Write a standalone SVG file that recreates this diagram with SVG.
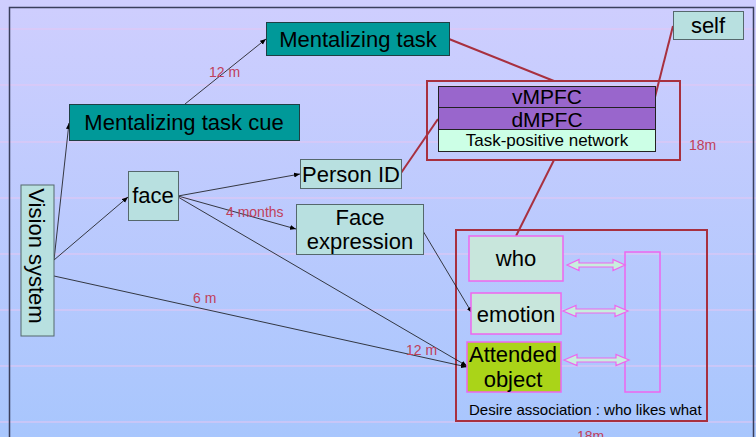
<svg xmlns="http://www.w3.org/2000/svg" width="756" height="437" viewBox="0 0 756 437">
  <defs>
    <linearGradient id="bg" x1="0" y1="0" x2="0" y2="1">
      <stop offset="0" stop-color="#cfcefe"/>
      <stop offset="1" stop-color="#a8c6fd"/>
    </linearGradient>
    <marker id="tip" viewBox="0 0 6 6" refX="6" refY="3" markerWidth="6" markerHeight="6" markerUnits="userSpaceOnUse" orient="auto">
      <path d="M0,0.6 L6,3 L0,5.4 Z" fill="#000"/>
    </marker>
    <style>
      text { font-family: "Liberation Sans", Arial, sans-serif; fill: #000; }
      .rule { stroke: #e6c6f2; stroke-width: 1; }
      .teal { fill: #009999; stroke: #1f3f44; stroke-width: 1; }
      .cyan { fill: #b8e0e0; stroke: #55686c; stroke-width: 1; }
      .purple { fill: #9966cc; stroke: #222; stroke-width: 1; }
      .mint { fill: #ccffe6; stroke: #222; stroke-width: 1; }
      .frame { fill: none; stroke: #a8303f; stroke-width: 2; }
      .slot { fill: #c8e6dc; stroke: #ee66ee; stroke-width: 1.5; }
      .dbl { fill: #c8eedd; stroke: #ee66ee; stroke-width: 1.2; }
      .big { font-size: 22px; }
      .area { font-size: 21px; }
      .lbl { font-size: 14px; fill: #c0405a; }
      .flow { fill: none; stroke: #111; stroke-width: 0.8; marker-end: url(#tip); }
      .link { fill: none; stroke: #a8303f; stroke-width: 2; }
    </style>
  </defs>

  <!-- background with ruled lines -->
  <rect x="0" y="0" width="756" height="437" fill="url(#bg)"/>
  <g id="rules">
    <line class="rule" x1="0" y1="29" x2="756" y2="29"/>
    <line class="rule" x1="0" y1="85" x2="756" y2="85"/>
    <line class="rule" x1="0" y1="142" x2="756" y2="142"/>
    <line class="rule" x1="0" y1="198" x2="756" y2="198"/>
    <line class="rule" x1="0" y1="254" x2="756" y2="254"/>
    <line class="rule" x1="0" y1="310" x2="756" y2="310"/>
    <line class="rule" x1="0" y1="366" x2="756" y2="366"/>
    <line class="rule" x1="0" y1="422" x2="756" y2="422"/>
  </g>
  <path d="M9.5,440 V7.5 H753.5 V440" fill="none" stroke="#3a3f5c" stroke-width="1.5"/>

  <!-- desire association container (drawn under the connectors) -->
  <g id="desire">
    <rect x="456" y="230" width="251" height="191" fill="#d6dee2" fill-opacity="0.55" class="frame"/>
    <text x="469" y="415" font-size="15">Desire association : who likes what</text>
    <rect x="625" y="252" width="35" height="140" fill="none" stroke="#ee66ee" stroke-width="1.5"/>
  </g>

  <g id="connectors">
    <line class="flow" x1="54" y1="260" x2="69" y2="123"/>
    <line class="flow" x1="54" y1="260" x2="128" y2="197"/>
    <line class="flow" x1="54" y1="276" x2="467" y2="367"/>
    <line class="flow" x1="185" y1="104" x2="266" y2="39"/>
    <line class="flow" x1="178" y1="196" x2="300" y2="174"/>
    <line class="flow" x1="178" y1="196" x2="296" y2="229"/>
    <line class="flow" x1="178" y1="197" x2="467" y2="366"/>
    <line class="flow" x1="423" y1="231" x2="472" y2="313"/>
    <line class="link" x1="449" y1="39" x2="554" y2="81"/>
    <line class="link" x1="673" y1="26" x2="655" y2="97"/>
    <line class="link" x1="401" y1="173" x2="438" y2="119"/>
    <line class="link" x1="554" y1="160" x2="516" y2="236"/>
    <text class="lbl" x="209" y="77">12 m</text>
    <text class="lbl" x="226" y="217">4 months</text>
    <text class="lbl" x="193" y="303">6 m</text>
    <text class="lbl" x="406" y="355">12 m</text>
    <text class="lbl" x="689" y="150">18m</text>
    <text class="lbl" x="577" y="441">18m</text>
  </g>

  <g id="vision">
    <rect class="cyan" x="21" y="185" width="33" height="151"/>
    <text class="big" transform="translate(29,256) rotate(90)" text-anchor="middle">Vision system</text>
  </g>

  <g id="mentalizing-task">
    <rect class="teal" x="266.5" y="22.5" width="183" height="33"/>
    <text class="big" x="358" y="47" text-anchor="middle">Mentalizing task</text>
  </g>

  <g id="mentalizing-cue">
    <rect class="teal" x="69.5" y="104.5" width="230" height="36"/>
    <text class="big" x="184" y="130" text-anchor="middle">Mentalizing task cue</text>
  </g>

  <g id="face">
    <rect class="cyan" x="128.5" y="171.5" width="50" height="49"/>
    <text class="big" x="153" y="203" text-anchor="middle">face</text>
  </g>

  <g id="person-id">
    <rect class="cyan" x="300.5" y="159.5" width="101" height="29"/>
    <text class="big" x="351" y="182" text-anchor="middle">Person ID</text>
  </g>

  <g id="face-expression">
    <rect class="cyan" x="296.5" y="204.5" width="127" height="50"/>
    <text class="big" x="360" y="225" text-anchor="middle">Face</text>
    <text class="big" x="360" y="249" text-anchor="middle">expression</text>
  </g>

  <g id="self">
    <rect class="cyan" x="673.5" y="11.5" width="70" height="28"/>
    <text class="big" x="708" y="33" text-anchor="middle">self</text>
  </g>

  <g id="mpfc">
    <rect class="frame" x="427" y="81" width="253" height="79"/>
    <rect class="purple" x="438.5" y="86.5" width="217" height="21"/>
    <text class="area" x="547" y="104" text-anchor="middle">vMPFC</text>
    <rect class="purple" x="438.5" y="107.5" width="217" height="22"/>
    <text class="area" x="547" y="127" text-anchor="middle">dMPFC</text>
    <rect class="mint" x="438.5" y="129.5" width="217" height="22"/>
    <text x="547" y="146" font-size="17" text-anchor="middle">Task-positive network</text>
  </g>

  <g id="who">
    <rect class="slot" x="469" y="236" width="94" height="45"/>
    <text class="big" x="516" y="266" text-anchor="middle" fill="#222">who</text>
    <path class="dbl" d="M567,265 L579,259.5 L579,263 L613,263 L613,259.5 L625,265 L613,270.5 L613,267 L579,267 L579,270.5 Z"/>
  </g>

  <g id="emotion">
    <rect class="slot" x="471" y="293" width="90" height="41"/>
    <text class="big" x="516" y="322" text-anchor="middle">emotion</text>
    <path class="dbl" d="M563,311 L576,305.5 L576,309 L615,309 L615,305.5 L628,311 L615,316.5 L615,313 L576,313 L576,316.5 Z"/>
  </g>

  <g id="attended-object">
    <rect x="467" y="342" width="94" height="50" fill="#aad418" stroke="#ee66ee" stroke-width="1.5"/>
    <text class="big" x="513" y="362" text-anchor="middle">Attended</text>
    <text class="big" x="513" y="387" text-anchor="middle">object</text>
    <path class="dbl" d="M564,360 L577,354.5 L577,358 L616,358 L616,354.5 L629,360 L616,365.5 L616,362 L577,362 L577,365.5 Z"/>
  </g>
</svg>
